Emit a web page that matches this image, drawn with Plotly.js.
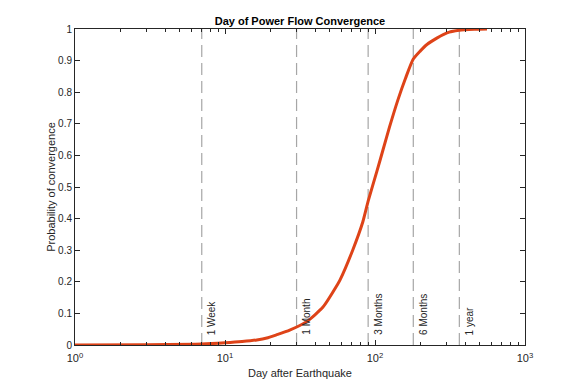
<!DOCTYPE html>
<html>
<head>
<meta charset="utf-8">
<script src="https://cdn.plot.ly/plotly-3.0.1.min.js"></script>
<style>html,body{margin:0;padding:0;background:#fff;}#chart{width:581px;height:388px;}</style>
</head>
<body>
<div id="chart"></div>
<script>
// Curve: day after earthquake vs probability of convergence
const days = [1, 3, 7, 10, 13, 16.3, 19, 22, 27, 35, 45, 56, 58.5, 71, 83, 90, 103, 113, 125, 142, 160, 180, 200, 222, 260, 302, 365, 460, 558];
const prob = [0, 0.001, 0.003, 0.007, 0.011, 0.016, 0.022, 0.032, 0.047, 0.074, 0.12, 0.19, 0.206, 0.30, 0.39, 0.455, 0.55, 0.617, 0.69, 0.775, 0.845, 0.905, 0.93, 0.951, 0.972, 0.988, 0.996, 0.999, 1.0];

// Reference markers
const markerDays = [7, 30, 90, 180, 365];
const markerLabels = ["1 Week", "1 Month", "3 Months", "6 Months", "1 year"];

// Axis ticks
const xTickVals = [1, 10, 100, 1000];
const xTickText = ["10<sup>0</sup>", "10<sup>1</sup>", "10<sup>2</sup>", "10<sup>3</sup>"];
const xMinorVals = [2,3,4,5,6,7,8,9,20,30,40,50,60,70,80,90,200,300,400,500,600,700,800,900];
const yTickVals = [0, 0.1, 0.2, 0.3, 0.4, 0.5, 0.6, 0.7, 0.8, 0.9, 1];
const yTickText = ["0", "0.1", "0.2", "0.3", "0.4", "0.5", "0.6", "0.7", "0.8", "0.9", "1"];

const axisColor = "#262626";
const font = "Liberation Sans, Arial, sans-serif";

const traces = markerDays.map(d => ({
  x: [d, d], y: [0, 1], mode: "lines", type: "scatter",
  line: {color: "#A6A6A6", width: 1.2, dash: "12px,6px"},
  hoverinfo: "skip", showlegend: false
}));
traces.push({
  x: days, y: prob, mode: "lines", type: "scatter",
  line: {color: "#DE4318", width: 3, shape: "spline", smoothing: 0.6},
  showlegend: false
});

const annotations = markerDays.map((d, i) => ({
  x: Math.log10(d), y: 0.025, xref: "x", yref: "y",
  text: markerLabels[i], textangle: -90, showarrow: false,
  xanchor: "center", yanchor: "bottom", xshift: 10,
  font: {family: font, size: 10, color: axisColor}
}));

const layout = {
  width: 581, height: 388,
  margin: {l: 75, r: 56, t: 29, b: 43},
  paper_bgcolor: "#fff", plot_bgcolor: "#fff",
  showlegend: false,
  title: {text: "<b>Day of Power Flow Convergence</b>", x: 0.5163, xanchor: "center", y: 0.945, yanchor: "middle",
          font: {family: font, size: 11, color: "#000"}},
  xaxis: {
    type: "log", range: [0, 3],
    tickmode: "array", tickvals: xTickVals, ticktext: xTickText,
    ticks: "inside", ticklen: 5, tickcolor: axisColor, tickwidth: 1,
    showline: true, linecolor: axisColor, linewidth: 1, mirror: "ticks",
    showgrid: false, zeroline: false, ticklabelstandoff: 3,
    minor: {tickmode: "array", tickvals: xMinorVals, ticks: "inside", ticklen: 3, tickcolor: axisColor, showgrid: false},
    tickfont: {family: font, size: 11, color: axisColor},
    title: {text: "Day after Earthquake", font: {family: font, size: 11, color: axisColor}, standoff: 6}
  },
  yaxis: {
    range: [0, 1],
    tickmode: "array", tickvals: yTickVals, ticktext: yTickText,
    ticks: "inside", ticklen: 5, tickcolor: axisColor, tickwidth: 1,
    showline: true, linecolor: axisColor, linewidth: 1, mirror: "ticks",
    showgrid: false, zeroline: false,
    tickfont: {family: font, size: 10, color: axisColor},
    title: {text: "Probability of convergence", font: {family: font, size: 11, color: axisColor}, standoff: 0}
  },
  annotations: annotations
};

Plotly.newPlot("chart", traces, layout, {displayModeBar: false, staticPlot: true});
</script>
</body>
</html>
